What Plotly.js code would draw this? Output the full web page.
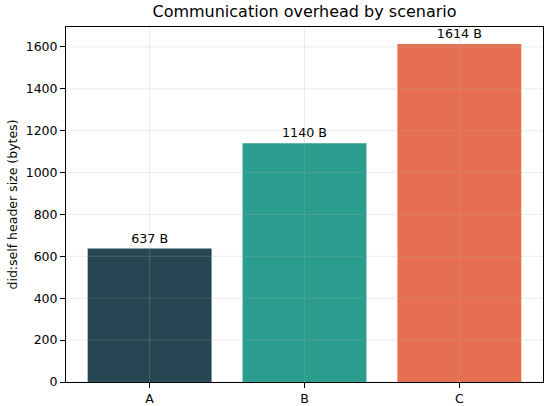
<!DOCTYPE html>
<html><head><meta charset="utf-8">
<script src="https://cdn.plot.ly/plotly-3.0.1.min.js"></script>
<style>body{margin:0;padding:0;background:#fff}#chart{width:550px;height:406px}</style>
</head><body><div id="chart"></div>
<script>
const categories = ['A', 'B', 'C'];
const headerBytes = [637, 1140, 1614];
const barColors = ['#264653', '#2a9d8f', '#e76f51'];
const yTicks = [0, 200, 400, 600, 800, 1000, 1200, 1400, 1600];

const labels = headerBytes.map(v => v + ' B');
const gridShapes = yTicks.map(v => ({type:'line', xref:'paper', x0:0, x1:1, yref:'y', y0:v, y1:v, layer:'above', line:{color:'rgba(176,176,176,0.3)', width:0.8}}));
[0,1,2].forEach(i => gridShapes.push({type:'line', xref:'x', x0:i, x1:i, yref:'paper', y0:0, y1:1, layer:'above', line:{color:'rgba(176,176,176,0.3)', width:0.8}}));

const trace = {
  type:'bar', x:[0,1,2], y:headerBytes, width:0.8,
  marker:{color:barColors, opacity:1, line:{width:0}},
  text:labels, textposition:'outside', cliponaxis:false,
  textfont:{family:'DejaVu Sans', size:12.7, color:'#000'}, hoverinfo:'none'
};
const layout = {
  width:550, height:406,
  margin:{l:66, r:7, t:27, b:24},
  paper_bgcolor:'#fff', plot_bgcolor:'#fff',
  font:{family:'DejaVu Sans', color:'#000', size:12},
  title:{text:'Communication overhead by scenario', font:{size:16, family:'DejaVu Sans'}, xref:'paper', x:0.5, xanchor:'center', y:0.985, yanchor:'top'},
  showlegend:false,
  xaxis:{range:[-0.54, 2.54], tickvals:[0,1,2], ticktext:categories, showgrid:false, zeroline:false,
    showline:true, mirror:true, linecolor:'#000', linewidth:1, ticks:'outside', ticklen:5, tickcolor:'#000', tickfont:{size:12.5}},
  yaxis:{range:[0, 1695], tickvals:yTicks, showgrid:false, zeroline:false,
    showline:true, mirror:true, linecolor:'#000', linewidth:1, ticks:'outside', ticklen:5, tickcolor:'#000', tickfont:{size:12.5},
    title:{text:'did:self header size (bytes)', font:{size:12.5}, standoff:5}},
  shapes:gridShapes,
  bargap:0.2
};
Plotly.newPlot('chart', [trace], layout, {staticPlot:true, displayModeBar:false});
</script></body></html>
